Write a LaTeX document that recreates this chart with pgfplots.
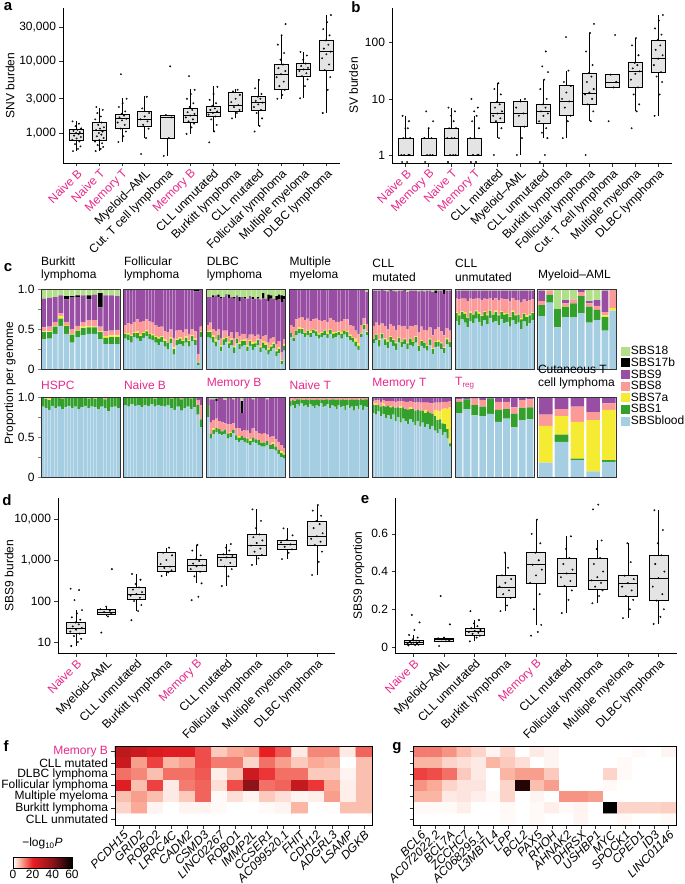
\documentclass[border=0pt]{standalone}
\usepackage{fontspec}
\setmainfont{Liberation Sans}
\usepackage{pgfplots}
\usepackage{pgfplotstable}
\pgfplotsset{compat=1.18}
\newcommand{\fs}[1]{\fontsize{#1}{#1}\selectfont}
\definecolor{pk}{RGB}{231,41,138}
\definecolor{boxgray}{RGB}{228,228,228}
\definecolor{cblood}{RGB}{166,206,227}
\definecolor{cone}{RGB}{51,160,44}
\definecolor{cseven}{RGB}{245,235,50}
\definecolor{ceight}{RGB}{251,154,153}
\definecolor{cnine}{RGB}{152,78,163}
\definecolor{cseventeen}{RGB}{0,0,0}
\definecolor{ceighteen}{RGB}{178,223,138}
\newcommand{\pk}[1]{\textcolor{pk}{#1}}

\pgfplotsset{
 /pgf/number format/assume math mode=true,
 bpax/.style={scale only axis, axis x line*=bottom, axis y line*=left,
   axis line style={line width=0.7pt, black}, tick align=outside, major tick length=3.5pt,
   tick style={line width=0.6pt, black!80}, tick label style={font=\fs{12}}, label style={font=\fs{12}},
   xticklabel style={rotate=45, anchor=north east, inner sep=1pt},
   yminorticks=false, xminorticks=false, clip=false},
 pts/.style={only marks, mark=*, mark size=0.75pt, mark options={draw=none, fill=black, fill opacity=0.42}},
 sigax/.style={scale only axis, width=79pt, height=80pt, ymin=0, ymax=100, xmin=0.5, ybar stacked, bar width=0.86,
   axis on top, axis line style={line width=0.8pt, black!80}, xtick=\empty, ytick=\empty,
   title style={at={(0,1)}, anchor=south west, align=left, font=\fontsize{12}{13.5}\selectfont, inner sep=1.5pt, xshift=-1.5pt},
   tick label style={font=\fs{12}}},
 hmax/.style={scale only axis, height=79pt, ymin=-0.5, ymax=6.5, y dir=reverse, ytick={0,...,6},
   xtick pos=bottom, ytick pos=left, tick align=outside, major tick length=3.5pt,
   tick style={black!80, line width=0.6pt}, axis line style={line width=0.8pt, black},
   tick label style={font=\fs{12}}, xticklabel style={rotate=45, anchor=north east, font=\fs{12}\itshape, inner sep=1pt},
   colormap={hm}{rgb255(0cm)=(255,255,255) rgb255(8cm)=(250,170,150) rgb255(20cm)=(232,30,35) rgb255(40cm)=(140,20,25) rgb255(60cm)=(0,0,0)},
   point meta min=0, point meta max=60, axis on top},
}
% box: #1 position, #2 lower whisker, #3 lower quartile, #4 median, #5 upper quartile, #6 upper whisker
\newcommand{\bp}[6]{%
 \pgfmathsetmacro{\bL}{#1-0.31}\pgfmathsetmacro{\bR}{#1+0.31}%
 \addplot[draw=black, line width=0.6pt] coordinates {(#1,#2)(#1,#3)};
 \addplot[draw=black, line width=0.6pt] coordinates {(#1,#5)(#1,#6)};
 \addplot[fill=boxgray, draw=black, line width=0.6pt] coordinates {(\bL,#3)(\bR,#3)(\bR,#5)(\bL,#5)} -- cycle;
 \addplot[draw=black, line width=0.9pt] coordinates {(\bL,#4)(\bR,#4)};}

\newcommand{\sigpanel}[5]{%
\begin{axis}[sigax, at={(#3pt,#4pt)}, anchor=south west, xmax=#2.5, #5]
\addplot[fill=cblood, draw=none] table[x expr=\coordindex+1, y=bl] {#1};
\addplot[fill=cone, draw=none] table[x expr=\coordindex+1, y=s1] {#1};
\addplot[fill=cseven, draw=none] table[x expr=\coordindex+1, y=s7] {#1};
\addplot[fill=ceight, draw=none] table[x expr=\coordindex+1, y=s8] {#1};
\addplot[fill=cnine, draw=none] table[x expr=\coordindex+1, y=s9] {#1};
\addplot[fill=cseventeen, draw=none] table[x expr=\coordindex+1, y=s17] {#1};
\addplot[fill=ceighteen, draw=none] table[x expr=\coordindex+1, y=s18] {#1};
\end{axis}}

% signature proportions (percent per genome)
\pgfplotstableread{
bl s1 s7 s8 s9 s17 s18
37 9 1 5 36 0 12
38 8 1 6 36 0 11
44 9 1 5 31 0 10
54 9 3 4 22 0 8
44 10 1 4 28 4 9
33 10 1 6 40 1 9
40 8 1 5 36 2 8
42 9 2 6 33 0 8
44 8 2 7 26 5 8
44 8 1 8 32 0 7
37 9 1 6 24 18 5
31 8 2 6 45 0 8
31 9 2 6 44 0 8
31 9 2 7 42 0 9
}\tBL
\pgfplotstableread{
bl s1 s7 s8 s9 s17 s18
38 6 1 10 45 0 0
36 7 2 12 43 0 0
33 8 1 14 42 2 0
40 5 1 13 41 0 0
38 7 2 15 37 1 0
35 6 2 16 40 1 0
39 6 1 14 40 0 0
41 6 2 13 38 0 0
37 7 1 15 40 0 0
36 6 2 14 41 1 0
33 7 1 14 44 1 0
30 8 2 12 48 0 0
34 6 1 12 47 0 0
28 7 2 10 52 1 0
25 8 1 12 54 0 0
32 6 2 10 50 0 0
18 7 2 12 61 0 0
30 6 1 11 52 0 0
31 7 2 9 51 0 0
29 6 1 10 53 1 0
33 6 2 9 50 0 0
28 7 1 8 56 0 0
35 6 1 8 48 2 0
30 6 2 9 50 3 0
5 3 1 10 78 3 0
40 6 1 6 47 0 0
}\tFL
\pgfplotstableread{
bl s1 s7 s8 s9 s17 s18
40 6 1 8 35 0 10
38 8 2 10 32 0 10
33 7 2 8 40 2 8
28 6 3 10 45 0 8
36 7 1 6 40 3 7
22 6 2 8 50 2 10
30 7 2 9 42 0 10
34 5 1 8 44 1 7
26 6 2 7 48 4 7
30 6 2 8 44 0 10
20 7 2 9 50 2 10
32 6 1 7 46 0 8
25 6 2 8 44 5 10
28 7 1 8 46 0 10
30 5 2 7 44 2 10
22 6 2 8 50 0 12
29 6 1 7 48 0 9
24 7 3 9 44 3 10
27 5 2 7 47 0 12
30 6 1 6 45 2 10
21 6 2 8 50 0 13
26 7 2 6 48 6 5
24 6 3 9 46 0 12
18 6 2 7 52 8 7
22 6 2 8 50 4 8
26 5 2 7 48 0 12
16 6 2 7 55 5 9
20 5 2 8 52 6 7
6 4 1 10 63 8 8
23 6 2 6 50 4 9
}\tDL
\pgfplotstableread{
bl s1 s7 s8 s9 s17 s18
40 5 0 10 45 0 0
35 4 1 12 48 0 0
42 6 1 13 38 0 0
45 5 2 12 36 0 0
44 6 1 14 35 0 0
40 5 1 15 39 0 0
42 6 1 14 37 0 0
40 5 2 13 40 0 0
45 4 1 12 38 0 0
41 6 1 15 37 0 0
38 5 2 16 39 0 0
40 5 1 14 40 0 0
42 6 1 12 39 0 0
39 5 2 13 41 0 0
44 5 1 14 36 0 0
38 6 2 15 39 0 0
40 5 1 13 41 0 0
42 4 1 12 41 0 0
38 6 2 14 40 0 0
43 5 1 13 38 0 0
40 6 1 15 38 0 0
36 5 2 12 45 0 0
34 5 1 14 46 0 0
28 6 4 10 52 0 0
24 5 3 12 56 0 0
40 4 1 10 45 0 0
50 5 1 8 36 0 0
42 4 1 9 40 0 4
}\tMM
\pgfplotstableread{
bl s1 s7 s8 s9 s17 s18
32 6 1 15 44 0 2
36 7 1 14 40 0 2
28 8 1 18 43 0 2
38 6 1 12 42 0 1
30 7 1 16 44 0 2
26 8 2 14 47 0 3
34 6 1 15 42 1 1
29 7 1 17 44 0 2
24 8 1 16 48 0 3
33 6 1 15 43 0 2
27 7 1 18 45 0 2
31 6 1 16 44 1 1
25 7 1 17 46 0 4
30 8 1 15 44 0 2
28 6 1 18 45 0 2
33 7 1 14 43 0 2
22 7 1 16 51 0 3
29 6 1 17 45 0 2
26 7 1 15 48 0 3
23 6 1 18 50 0 2
30 7 1 14 46 0 2
19 6 1 16 54 0 4
27 7 1 15 45 3 2
28 6 2 16 46 0 2
25 7 1 14 51 0 2
20 6 1 15 52 5 1
31 6 2 12 47 0 2
27 7 1 13 50 0 2
}\tCM
\pgfplotstableread{
bl s1 s7 s8 s9 s17 s18
60 10 1 17 10 0 2
55 12 2 18 11 0 2
62 9 1 16 10 0 2
58 11 2 17 10 0 2
52 12 1 20 13 0 2
60 10 2 16 10 0 2
57 11 1 18 11 0 2
63 9 1 15 10 0 2
59 10 2 17 10 0 2
54 12 1 19 12 0 2
61 10 1 16 10 0 2
56 11 2 18 11 0 2
64 9 1 15 9 0 2
58 10 1 17 12 0 2
60 11 2 16 9 0 2
55 12 1 18 12 0 2
62 9 1 16 10 0 2
57 11 2 17 11 0 2
59 10 1 17 11 0 2
53 12 1 19 13 0 2
61 10 2 16 9 0 2
56 11 1 18 12 0 2
58 10 1 17 12 0 2
50 12 2 19 15 0 2
60 9 1 17 11 0 2
54 11 2 18 13 0 2
57 10 1 18 12 0 2
61 9 1 16 11 0 2
}\tCU
\pgfplotstableread{
bl s1 s7 s8 s9 s17 s18
66 14 0 5 13 0 2
83 10 0 5 0 0 2
52 23 0 0 0 0 25
65 13 1 3 4 0 14
65 17 0 5 0 0 13
70 21 0 5 4 0 0
58 20 0 4 3 0 15
61 13 0 5 7 0 14
48 17 2 4 27 0 2
73 0 3 24 0 0 0
}\tAM
\pgfplotstableread{
bl s1 s7 s8 s9 s17 s18
88 12 0 0 0 0 0
86 12 1 1 0 0 0
84 12 2 2 0 0 0
89 11 0 0 0 0 0
86 14 0 0 0 0 0
88 12 0 0 0 0 0
85 13 0 1 0 0 1
87 13 0 0 0 0 0
89 11 0 0 0 0 0
86 13 0 0 0 0 1
88 12 0 0 0 0 0
85 14 0 0 0 0 1
87 13 0 0 0 0 0
89 11 0 0 0 0 0
86 12 0 1 0 0 1
88 12 0 0 0 0 0
87 11 2 0 0 0 0
85 14 0 0 0 0 1
88 12 0 0 0 0 0
86 11 0 2 0 0 1
82 18 0 0 0 0 0
87 12 0 0 0 0 1
88 12 0 0 0 0 0
86 14 0 0 0 0 0
}\tHS
\pgfplotstableread{
bl s1 s7 s8 s9 s17 s18
90 10 0 0 0 0 0
88 11 0 0 0 0 1
91 9 0 0 0 0 0
89 10 0 0 0 0 1
90 10 0 0 0 0 0
87 12 0 0 0 0 1
90 9 1 0 0 0 0
89 11 0 0 0 0 0
91 9 0 0 0 0 0
88 10 0 1 0 0 1
90 10 0 0 0 0 0
89 10 0 1 0 0 0
88 12 0 0 0 0 0
90 9 0 1 0 0 0
86 12 0 2 0 0 0
84 15 0 1 0 0 0
88 12 0 0 0 0 0
83 14 0 3 0 0 0
86 13 0 1 0 0 0
88 12 0 0 0 0 0
85 13 0 2 0 0 0
87 12 0 1 0 0 0
78 12 0 6 4 0 0
62 10 0 18 10 0 0
}\tNB
\pgfplotstableread{
bl s1 s7 s8 s9 s17 s18
75 15 0 0 10 0 0
48 6 0 14 29 0 3
54 5 2 10 26 0 3
56 5 0 12 22 3 2
54 6 0 10 30 0 0
52 5 0 12 31 0 0
54 5 0 8 29 0 4
48 6 0 12 34 0 0
50 5 1 10 34 0 0
55 4 0 8 30 0 3
46 6 0 9 39 0 0
44 5 2 10 39 0 0
46 5 0 6 23 15 5
44 5 0 10 41 0 0
42 6 0 10 42 0 0
40 5 2 8 45 0 0
44 5 0 12 36 0 3
42 5 0 10 43 0 0
40 6 0 9 45 0 0
38 5 1 10 46 0 0
38 5 0 12 45 0 0
40 5 0 8 44 0 3
35 5 0 10 50 0 0
35 6 2 8 49 0 0
33 5 0 9 53 0 0
29 5 0 10 56 0 0
25 5 2 8 60 0 0
23 5 2 6 64 0 0
}\tMB
\pgfplotstableread{
bl s1 s7 s8 s9 s17 s18
88 7 0 3 2 0 0
90 6 0 3 1 0 0
86 9 0 3 2 0 0
91 6 0 2 1 0 0
89 8 0 2 1 0 0
92 5 0 2 1 0 0
88 8 0 3 1 0 0
90 7 0 2 1 0 0
87 9 0 3 1 0 0
91 6 0 2 1 0 0
89 7 0 3 1 0 0
86 10 0 3 1 0 0
90 7 0 2 1 0 0
88 8 0 3 1 0 0
92 5 0 2 1 0 0
87 9 0 3 1 0 0
89 8 0 2 1 0 0
91 6 0 2 1 0 0
86 10 0 3 1 0 0
90 7 0 2 1 0 0
88 9 0 2 1 0 0
85 11 0 3 1 0 0
90 7 0 2 1 0 0
87 9 0 3 1 0 0
89 8 0 2 1 0 0
84 12 0 3 1 0 0
90 7 0 2 1 0 0
86 10 0 3 1 0 0
88 9 0 2 1 0 0
83 13 0 3 1 0 0
89 8 0 2 1 0 0
85 11 0 3 1 0 0
90 8 0 1 1 0 0
84 12 0 3 1 0 0
88 9 0 2 1 0 0
87 10 0 2 1 0 0
}\tNT
\pgfplotstableread{
bl s1 s7 s8 s9 s17 s18
80 10 0 5 5 0 0
78 12 2 4 4 0 0
82 8 0 6 4 0 0
76 12 0 6 5 0 1
79 10 3 4 4 0 0
74 14 0 7 5 0 0
77 12 0 6 5 0 0
72 15 2 6 5 0 0
78 10 0 7 5 0 0
70 16 0 8 6 0 0
75 12 0 8 5 0 0
68 18 3 6 5 0 0
73 14 0 8 5 0 0
70 15 0 9 6 0 0
66 18 0 10 6 0 0
72 13 2 8 5 0 0
69 16 0 9 6 0 0
65 18 0 10 7 0 0
70 14 0 10 6 0 0
63 20 0 10 7 0 0
68 15 0 10 7 0 0
62 18 4 9 7 0 0
66 16 0 11 7 0 0
60 20 0 12 8 0 0
64 15 0 13 8 0 0
58 18 8 9 7 0 0
55 16 12 10 7 0 0
60 12 10 11 7 0 0
52 15 18 9 6 0 0
56 10 20 8 6 0 0
48 12 25 9 6 0 0
38 4 45 8 5 0 0
}\tMT
\pgfplotstableread{
bl s1 s7 s8 s9 s17 s18
80 14 0 3 3 0 0
85 12 0 0 3 0 0
77 13 0 8 2 0 0
76 12 0 8 4 0 0
79 19 0 0 2 0 0
69 15 0 10 6 0 0
73 12 0 9 6 0 0
62 17 0 8 13 0 0
71 15 0 10 4 0 0
72 15 0 10 3 0 0
}\tTR
\pgfplotstableread{
bl s1 s7 s8 s9 s17 s18
18 0 46 14 22 0 0
44 9 23 9 15 0 0
21 2 46 19 12 0 0
7 0 64 10 19 0 0
19 2 63 8 8 0 0
}\tCT

\begin{document}
\begin{tikzpicture}
\path[use as bounding box] (0,0) rectangle (685pt,-884pt);

% ---------------- panel a
\begin{axis}[bpax, at={(63pt,-163pt)}, anchor=south west, width=277pt, height=155pt,
  xmin=-0.6, xmax=11.6, ymode=log, ymin=382, ymax=55200,
  ytick={1000,3000,10000,30000}, yticklabels={{1,000},{3,000},{10,000},{30,000}},
  xtick={0,...,11}, xticklabels={\pk{Naive B},\pk{Naive T},\pk{Memory T},Myeloid--AML,Cut.\ T cell lymphoma,\pk{Memory B},CLL unmutated,Burkitt lymphoma,CLL mutated,Follicular lymphoma,Multiple myeloma,DLBC lymphoma},
  ylabel={SNV burden}, ylabel shift=-2pt]
\bp{0}{567}{799}{1000}{1137}{1484}
\bp{1}{567}{799}{1077}{1391}{2208}
\bp{2}{742}{1148}{1580}{1840}{3100}
\bp{3}{844}{1225}{1552}{1982}{3300}
\bp{4}{478}{844}{1655}{1780}{1780}
\bp{5}{969}{1391}{1745}{2208}{4056}
\bp{6}{1042}{1687}{1960}{2378}{4520}
\bp{7}{1600}{2025}{2433}{3640}{4056}
\bp{8}{1250}{2090}{2675}{3275}{5600}
\bp{9}{2980}{4056}{6640}{9150}{23200}
\bp{10}{3050}{6100}{7710}{9330}{13600}
\bp{11}{1923}{7530}{13600}{19700}{44000}
\addplot[pts] coordinates {(-0.16,560)(0.06,600)(0.17,650)(-0.07,700)(0.12,760)(-0.19,800)(0,840)(0.19,880)(-0.11,920)(0.09,960)(-0.02,1000)(0.14,1030)(-0.14,1070)(0.03,1110)(0.2,1160)(-0.05,1250)(0.1,1350)(-0.18,1450)
(0.84,560)(1.06,600)(1.17,640)(0.93,680)(1.12,720)(0.81,760)(1,800)(1.19,850)(0.89,900)(1.09,950)(0.98,1000)(1.14,1050)(0.86,1100)(1.03,1150)(1.2,1200)(0.95,1300)(1.1,1400)(0.82,1550)(1.07,1700)(0.91,1900)(1.15,2100)(0.87,2300)
(1.84,750)(2.06,900)(2.17,1050)(1.93,1150)(2.12,1300)(1.81,1400)(2,1500)(2.19,1580)(1.89,1650)(2.09,1750)(1.98,1850)(2.14,2000)(1.86,2300)(2.03,2600)(2.2,3000)(1.95,6600)
(2.84,510)(3.06,850)(3.17,1150)(2.93,1300)(3.12,1450)(2.81,1550)(3,1700)(3.19,1900)(2.89,2200)(3.09,3200)
(3.84,480)(4.06,850)(4.17,1650)(3.93,1780)(4.12,8500)
(4.84,970)(5.06,1200)(5.17,1350)(4.93,1450)(5.12,1550)(4.81,1650)(5,1750)(5.19,1850)(4.89,1950)(5.09,2100)(4.98,2300)(5.14,2600)(4.86,3000)(5.03,3500)(5.2,4000)(4.95,6200)
(5.84,740)(6.06,1050)(6.17,1300)(5.93,1550)(6.12,1700)(5.81,1800)(6,1900)(6.19,2000)(5.89,2100)(6.09,2200)(5.98,2400)(6.14,2600)(5.86,2900)(6.03,3500)(6.2,4400)
(6.84,1600)(7.06,1900)(7.17,2100)(6.93,2300)(7.12,2450)(6.81,2700)(7,3000)(7.19,3400)(6.89,3800)(7.09,4000)
(7.84,1050)(8.06,1250)(8.17,1600)(7.93,1900)(8.12,2100)(7.81,2300)(8,2500)(8.19,2650)(7.89,2800)(8.09,3000)(7.98,3200)(8.14,3500)(7.86,4200)(8.03,5500)
(8.84,3000)(9.06,3400)(9.17,4000)(8.93,4500)(9.12,5200)(8.81,6000)(9,6600)(9.19,7300)(8.89,8000)(9.09,9000)(8.98,10500)(9.14,13000)(8.86,17000)(9.03,23000)(9.2,33000)
(9.84,3050)(10.06,4500)(10.17,5600)(9.93,6200)(10.12,6800)(9.81,7300)(10,7700)(10.19,8100)(9.89,8600)(10.09,9300)(9.98,10500)(10.14,12000)(9.86,13500)
(10.84,1900)(11.06,4000)(11.17,6000)(10.93,7500)(11.12,9000)(10.81,11000)(11,12500)(11.19,13600)(10.89,15000)(11.09,17000)(10.98,19500)(11.14,23000)(10.86,28000)(11.03,35000)(11.2,44000)};
\end{axis}

% ---------------- panel b
\begin{axis}[bpax, at={(392pt,-163pt)}, anchor=south west, width=280pt, height=155pt,
  xmin=-0.6, xmax=11.6, ymode=log, ymin=0.72, ymax=417,
  ytick={1,10,100}, yticklabels={1,10,100},
  xtick={0,...,11}, xticklabels={\pk{Naive B},\pk{Memory B},\pk{Naive T},\pk{Memory T},CLL mutated,Myeloid--AML,CLL unmutated,Burkitt lymphoma,Follicular lymphoma,Cut.\ T cell lymphoma,Multiple myeloma,DLBC lymphoma},
  ylabel={SV burden}]
\bp{0}{1}{1}{1}{2}{5}
\bp{1}{1}{1}{1}{2}{3}
\bp{2}{1}{1}{2}{3}{7}
\bp{3}{1}{1}{1}{2}{5}
\bp{4}{2}{3.9}{5.5}{8.6}{19}
\bp{5}{1}{3.2}{5.5}{9.1}{10}
\bp{6}{2}{3.6}{5.9}{7.9}{22}
\bp{7}{2}{5}{9}{17.5}{32}
\bp{8}{4}{7.9}{12.5}{29}{152}
\bp{9}{15.8}{15.8}{19.8}{27}{27}
\bp{10}{6}{15.8}{31}{44}{121}
\bp{11}{5}{30}{52}{113}{313}
\addplot[pts] coordinates {(-0.16,0.75)(0.06,0.75)(0.17,1)(-0.07,1)(0.12,1)(-0.19,1)(0,2)(0.19,2)(-0.11,2)(0.09,3)(-0.02,3)(0.14,4)(-0.14,5)
(0.84,0.75)(1.06,1)(1.17,1)(0.93,1)(1.12,2)(0.81,2)(1,3)(1.19,4)(0.89,6)
(1.84,0.75)(2.06,1)(2.17,1)(1.93,1)(2.12,2)(1.81,2)(2,2)(2.19,3)(1.89,3)(2.09,4)(1.98,5)(2.14,6)(1.86,7)
(2.84,0.75)(3.06,0.75)(3.17,1)(2.93,1)(3.12,1)(2.81,2)(3,2)(3.19,3)(2.89,4)(3.09,5)(2.98,6)(3.14,7)(2.86,10)
(3.84,1)(4.06,2)(4.17,3)(3.93,4)(4.12,4.5)(3.81,5)(4,5.5)(4.19,6)(3.89,7)(4.09,8)(3.98,9)(4.14,12)(3.86,15)(4.03,19)
(4.84,1)(5.06,2)(5.17,3.2)(4.93,5)(5.12,5.5)(4.81,7)(5,9)(5.19,10)
(5.84,0.75)(6.06,1)(6.17,2)(5.93,2.5)(6.12,3)(5.81,4)(6,5)(6.19,5.5)(5.89,6)(6.09,7)(5.98,8)(6.14,10)(5.86,15)(6.03,22)(6.2,30)(5.95,38)(6.1,70)
(6.84,2)(7.06,4)(7.17,5)(6.93,7)(7.12,9)(6.81,10)(7,13)(7.19,17)(6.89,20)(7.09,32)(6.98,126)
(7.84,1)(8.06,4)(8.17,6)(7.93,8)(8.12,10)(7.81,12)(8,13)(8.19,15)(7.89,20)(8.09,25)(7.98,29)(8.14,40)(7.86,70)(8.03,150)(8.2,217)
(8.84,4)(9.06,16)(9.17,20)(8.93,27)(9.12,138)
(9.84,3)(10.06,6)(10.17,8)(9.93,12)(10.12,16)(9.81,22)(10,28)(10.19,31)(9.89,35)(10.09,40)(9.98,44)(10.14,60)(9.86,90)(10.03,121)
(10.84,5)(11.06,12)(11.17,20)(10.93,25)(11.12,30)(10.81,40)(11,52)(11.19,60)(10.89,75)(11.09,90)(10.98,113)(11.14,140)(10.86,180)(11.03,250)(11.2,313)};
\end{axis}

% ---------------- panel c
\sigpanel{\tBL}{14}{41}{-369}{ytick={0,25,50,75,100}, yticklabels={0,,0.5,,1.0}, ytick pos=left, tick align=outside, major tick length=3pt, title={Burkitt\\lymphoma}}
\sigpanel{\tFL}{26}{123.8}{-369}{title={Follicular\\lymphoma}}
\sigpanel{\tDL}{30}{206.6}{-369}{title={DLBC\\lymphoma}}
\sigpanel{\tMM}{28}{289.4}{-369}{title={Multiple\\myeloma}}
\sigpanel{\tCM}{28}{372.2}{-369}{title={CLL\\mutated}}
\sigpanel{\tCU}{28}{455}{-369}{title={CLL\\unmutated}}
\sigpanel{\tAM}{10}{537.8}{-369}{title={Myeloid--AML},
  legend entries={SBSblood,SBS1,SBS7a,SBS8,SBS9,SBS17b,SBS18}, reverse legend, legend cell align=left,
  legend style={at={(1.05,0.30)}, anchor=north west, draw=none, fill=none, font=\fs{12}, inner sep=0pt, row sep=-0.3pt, nodes={inner sep=1pt}},
  legend image code/.code={\fill[#1] (0pt,-4.5pt) rectangle (9pt,4.5pt);}}
\sigpanel{\tHS}{24}{41}{-477}{ytick={0,25,50,75,100}, yticklabels={0,,0.5,,1.0}, ytick pos=left, tick align=outside, major tick length=3pt, title={\pk{HSPC}}}
\sigpanel{\tNB}{24}{123.8}{-477}{title={\pk{Naive B}}}
\sigpanel{\tMB}{28}{206.6}{-477}{title={\pk{Memory B}}}
\sigpanel{\tNT}{36}{289.4}{-477}{title={\pk{Naive T}}}
\sigpanel{\tMT}{32}{372.2}{-477}{title={\pk{Memory T}}}
\sigpanel{\tTR}{10}{455}{-477}{title={\pk{T\textsubscript{reg}}}}
\sigpanel{\tCT}{5}{537.8}{-477}{title={Cutaneous T\\cell lymphoma}}
\node[rotate=90, font=\fs{12}] at (10pt,-383pt) {Proportion per genome};

% ---------------- panel d
\begin{axis}[bpax, at={(58pt,-653pt)}, anchor=south west, width=277pt, height=155pt,
  xmin=-0.6, xmax=8.6, ymode=log, ymin=5.4, ymax=32500,
  ytick={10,100,1000,10000}, yticklabels={10,100,{1,000},{10,000}},
  xtick={0,...,8}, xticklabels={\pk{Naive B},Myeloid--AML,CLL unmutated,Burkitt lymphoma,\pk{Memory B},CLL mutated,Follicular lymphoma,Multiple myeloma,DLBC lymphoma},
  ylabel={SBS9 burden}, ylabel shift=-6pt]
\bp{0}{8}{16.3}{21.6}{30}{60}
\bp{1}{42}{47}{54}{63}{73}
\bp{2}{57}{110}{148}{216}{457}
\bp{3}{407}{519}{687}{1516}{2000}
\bp{4}{270}{519}{740}{1040}{2340}
\bp{5}{232}{687}{1163}{1380}{2450}
\bp{6}{760}{1320}{2240}{4240}{17200}
\bp{7}{1050}{1820}{2400}{3090}{5900}
\bp{8}{430}{2320}{3800}{8900}{21900}
\addplot[pts] coordinates {(-0.16,8)(0.06,10)(0.17,12)(-0.07,14)(0.12,16)(-0.19,18)(0,20)(0.19,22)(-0.11,24)(0.09,27)(-0.02,30)(0.14,35)(-0.14,40)(0.03,50)(0.2,60)(-0.05,105)(0.1,185)(-0.18,200)
(0.84,17)(1.06,42)(1.17,50)(0.93,54)(1.12,58)(0.81,63)(1,73)(1.19,600)
(1.84,34)(2.06,57)(2.17,80)(1.93,100)(2.12,120)(1.81,135)(2,148)(2.19,165)(1.89,190)(2.09,216)(1.98,260)(2.14,330)(1.86,457)
(2.84,407)(3.06,500)(3.17,560)(2.93,640)(3.12,690)(2.81,800)(3,1000)(3.19,1300)(2.89,1500)(3.09,2000)
(3.84,105)(4.06,127)(4.17,270)(3.93,400)(4.12,520)(3.81,600)(4,700)(4.19,740)(3.89,820)(4.09,950)(3.98,1040)(4.14,1300)(3.86,1700)(4.03,2340)
(4.84,232)(5.06,400)(5.17,600)(4.93,700)(5.12,850)(4.81,1000)(5,1160)(5.19,1250)(4.89,1380)(5.09,1700)(4.98,2000)(5.14,2450)
(5.84,760)(6.06,1100)(6.17,1320)(5.93,1600)(6.12,1900)(5.81,2240)(6,2600)(6.19,3000)(5.89,3600)(6.09,4240)(5.98,6000)(6.14,9000)(5.86,17200)
(6.84,1050)(7.06,1500)(7.17,1820)(6.93,2100)(7.12,2400)(6.81,2700)(7,3090)(7.19,4000)(6.89,5900)
(7.84,430)(8.06,900)(8.17,1600)(7.93,2320)(8.12,2800)(7.81,3300)(8,3800)(8.19,4500)(7.89,6000)(8.09,7500)(7.98,8900)(8.14,12000)(7.86,16000)(8.03,21900)};
\end{axis}

% ---------------- panel e
\begin{axis}[bpax, at={(395pt,-653pt)}, anchor=south west, width=282pt, height=155pt,
  xmin=-0.6, xmax=8.6, ymin=-0.032, ymax=0.79,
  ytick={0,0.2,0.4,0.6}, yticklabels={0,0.2,0.4,0.6},
  xtick={0,...,8}, xticklabels={\pk{Naive B},Myeloid--AML,CLL unmutated,Burkitt lymphoma,\pk{Memory B},CLL mutated,Follicular lymphoma,Multiple myeloma,DLBC lymphoma},
  ylabel={SBS9 proportion}]
\bp{0}{0.008}{0.014}{0.023}{0.034}{0.064}
\bp{1}{0.03}{0.032}{0.041}{0.046}{0.05}
\bp{2}{0.03}{0.06}{0.081}{0.1}{0.143}
\bp{3}{0.19}{0.264}{0.318}{0.378}{0.5}
\bp{4}{0.117}{0.34}{0.436}{0.5}{0.675}
\bp{5}{0.18}{0.324}{0.392}{0.472}{0.587}
\bp{6}{0.232}{0.307}{0.353}{0.472}{0.565}
\bp{7}{0.153}{0.271}{0.339}{0.378}{0.55}
\bp{8}{0.122}{0.246}{0.365}{0.486}{0.725}
\addplot[pts] coordinates {(-0.16,0.008)(0.06,0.01)(0.17,0.012)(-0.07,0.015)(0.12,0.018)(-0.19,0.02)(0,0.023)(0.19,0.026)(-0.11,0.03)(0.09,0.034)(-0.02,0.04)(0.14,0.05)(-0.14,0.064)(0.03,0.09)(0.2,0.13)(-0.05,0.17)
(0.84,0.005)(1.06,0.03)(1.17,0.035)(0.93,0.04)(1.12,0.043)(0.81,0.046)(1,0.05)(1.19,0.12)(0.89,0.27)
(1.84,0.03)(2.06,0.05)(2.17,0.06)(1.93,0.07)(2.12,0.075)(1.81,0.08)(2,0.085)(2.19,0.09)(1.89,0.1)(2.09,0.11)(1.98,0.125)(2.14,0.143)(1.86,0.19)
(2.84,0.19)(3.06,0.22)(3.17,0.26)(2.93,0.28)(3.12,0.3)(2.81,0.32)(3,0.34)(3.19,0.36)(2.89,0.38)(3.09,0.42)(2.98,0.5)
(3.84,0.06)(4.06,0.08)(4.17,0.117)(3.93,0.2)(4.12,0.28)(3.81,0.34)(4,0.38)(4.19,0.41)(3.89,0.436)(4.09,0.46)(3.98,0.5)(4.14,0.55)(3.86,0.6)(4.03,0.675)
(4.84,0.18)(5.06,0.25)(5.17,0.3)(4.93,0.324)(5.12,0.35)(4.81,0.37)(5,0.39)(5.19,0.41)(4.89,0.44)(5.09,0.472)(4.98,0.52)(5.14,0.587)
(5.84,0.232)(6.06,0.27)(6.17,0.3)(5.93,0.32)(6.12,0.34)(5.81,0.353)(6,0.37)(6.19,0.4)(5.89,0.44)(6.09,0.472)(5.98,0.52)(6.14,0.565)(5.86,0.73)(6.03,0.755)
(6.84,0.153)(7.06,0.2)(7.17,0.25)(6.93,0.27)(7.12,0.3)(6.81,0.32)(7,0.339)(7.19,0.36)(6.89,0.378)(7.09,0.45)(6.98,0.55)
(7.84,0.122)(8.06,0.16)(8.17,0.2)(7.93,0.246)(8.12,0.28)(7.81,0.32)(8,0.365)(8.19,0.4)(7.89,0.44)(8.09,0.486)(7.98,0.55)(8.14,0.62)(7.86,0.725)};
\end{axis}

% ---------------- panel f
\begin{axis}[hmax, at={(115pt,-825pt)}, anchor=south west, width=257pt, xmin=-0.5, xmax=15.5,
  xtick={0,...,15}, xticklabels={PCDH15,GRID2,ROBO2,LRRC4C,CADM2,CSMD3,LINC02267,ROBO1,IMMP2L,CCSER1,AC099520.1,FHIT,CDH12,ADGRL3,LSAMP,DGKB},
  yticklabels={\pk{Memory B},CLL mutated,DLBC lymphoma,Follicular lymphoma,Multiple myeloma,Burkitt lymphoma,CLL unmutated},
  colorbar horizontal,
  colorbar style={at={(-0.397,-0.405)}, anchor=north west, scale only axis, width=59pt, height=11pt,
    xtick={0,20,40,60}, xticklabels={0,20,40,60}, xticklabel style={rotate=0, anchor=north, font=\fs{12}\upshape, inner sep=1.5pt},
    xtick style={draw=none}, ytick=\empty, title={\textminus log\textsubscript{10}\textit{P}}, title style={font=\fs{12}, inner sep=1.5pt}, axis line style={line width=0.6pt}}]
\addplot[matrix plot*, mesh/cols=16, point meta=explicit] table[meta=c, row sep=\\] {
x y c\\
0 0 30\\1 0 27\\2 0 23\\3 0 22\\4 0 22\\5 0 16\\6 0 5\\7 0 8\\8 0 9\\9 0 20\\10 0 15\\11 0 2\\12 0 11\\13 0 11\\14 0 2\\15 0 14\\
0 1 27\\1 1 9\\2 1 17\\3 1 7\\4 1 9\\5 1 16\\6 1 12\\7 1 12\\8 1 4\\9 1 13\\10 1 9\\11 1 5\\12 1 8\\13 1 7\\14 1 0\\15 1 6\\
0 2 13\\1 2 11\\2 2 6\\3 2 13\\4 2 13\\5 2 15\\6 2 1.5\\7 2 6\\8 2 26\\9 2 18\\10 2 13\\11 2 13\\12 2 5\\13 2 5\\14 2 1\\15 2 6\\
0 3 22\\1 3 6\\2 3 17\\3 3 2\\4 3 12\\5 3 14\\6 3 3\\7 3 16\\8 3 40\\9 3 13\\10 3 14\\11 3 28\\12 3 18\\13 3 8\\14 3 1.5\\15 3 6\\
0 4 6\\1 4 9\\2 4 6\\3 4 2\\4 4 5\\5 4 14\\6 4 0.5\\7 4 3\\8 4 1\\9 4 5\\10 4 3\\11 4 1\\12 4 1.5\\13 4 9\\14 4 1.5\\15 4 6\\
0 5 4\\1 5 8\\2 5 1\\3 5 0\\4 5 1\\5 5 1\\6 5 0.5\\7 5 0\\8 5 0\\9 5 0.5\\10 5 1\\11 5 7\\12 5 0\\13 5 0.2\\14 5 6\\15 5 6\\
0 6 0\\1 6 0\\2 6 0\\3 6 0\\4 6 0\\5 6 0\\6 6 0\\7 6 0\\8 6 0\\9 6 0\\10 6 0\\11 6 0\\12 6 0\\13 6 0\\14 6 0\\15 6 0\\
};
\end{axis}

% ---------------- panel g
\begin{axis}[hmax, at={(413pt,-825pt)}, anchor=south west, width=263pt, xmin=-0.5, xmax=17.5,
  xtick={0,...,17}, xticklabels={BCL6,AC072022.2,BCL7A,ZCCHC7,AC068295.1,L3MBTL4,LPP,BCL2,PAX5,RHOH,AHNAK2,DHRSX,USHBP1,MYC,SPOCK1,CPED1,ID3,LINC01146},
  yticklabels={}]
\addplot[matrix plot*, mesh/cols=18, point meta=explicit] table[meta=c, row sep=\\] {
x y c\\
0 0 12\\1 0 12\\2 0 10\\3 0 6\\4 0 4\\5 0 1\\6 0 4\\7 0 0\\8 0 2\\9 0 1\\10 0 0\\11 0 0\\12 0 0\\13 0 0\\14 0 0\\15 0 0.5\\16 0 0\\17 0 1\\
0 1 7\\1 1 7\\2 1 4\\3 1 3\\4 1 2\\5 1 7\\6 1 5\\7 1 3\\8 1 0\\9 1 1\\10 1 0\\11 1 0\\12 1 0\\13 1 0\\14 1 0.5\\15 1 0\\16 1 0\\17 1 0\\
0 2 17\\1 2 16\\2 2 13\\3 2 5\\4 2 2\\5 2 0\\6 2 7\\7 2 9\\8 2 9\\9 2 5\\10 2 0\\11 2 0\\12 2 0\\13 2 4\\14 2 0.5\\15 2 0\\16 2 0\\17 2 0\\
0 3 10\\1 3 8\\2 3 4\\3 3 2.5\\4 3 2.5\\5 3 0\\6 3 4\\7 3 55\\8 3 6\\9 3 9\\10 3 0\\11 3 0\\12 3 0\\13 3 0.5\\14 3 0\\15 3 0\\16 3 0\\17 3 0\\
0 4 7\\1 4 7\\2 4 2\\3 4 2.5\\4 4 1.5\\5 4 0.5\\6 4 4\\7 4 0\\8 4 1\\9 4 0\\10 4 10\\11 4 10\\12 4 9\\13 4 0\\14 4 0\\15 4 0\\16 4 0\\17 4 0\\
0 5 0.5\\1 5 0.5\\2 5 0.5\\3 5 1.5\\4 5 0\\5 5 0\\6 5 0.5\\7 5 0\\8 5 0.5\\9 5 1.5\\10 5 0.5\\11 5 1\\12 5 0\\13 5 62\\14 5 4\\15 5 4\\16 5 4\\17 5 4.5\\
0 6 0\\1 6 0\\2 6 0\\3 6 0\\4 6 0\\5 6 0\\6 6 0.5\\7 6 0\\8 6 0.5\\9 6 0\\10 6 0\\11 6 1\\12 6 0\\13 6 0\\14 6 0.5\\15 6 0\\16 6 0\\17 6 0.5\\
};
\end{axis}

% panel letters
\node[font=\bfseries\fs{15}] at (8pt,-7pt) {a};
\node[font=\bfseries\fs{15}] at (356pt,-7pt) {b};
\node[font=\bfseries\fs{15}] at (8pt,-268pt) {c};
\node[font=\bfseries\fs{15}] at (7pt,-500pt) {d};
\node[font=\bfseries\fs{15}] at (365pt,-500pt) {e};
\node[font=\bfseries\fs{15}] at (6pt,-746pt) {f};
\node[font=\bfseries\fs{15}] at (397pt,-748pt) {g};
\end{tikzpicture}
\end{document}
